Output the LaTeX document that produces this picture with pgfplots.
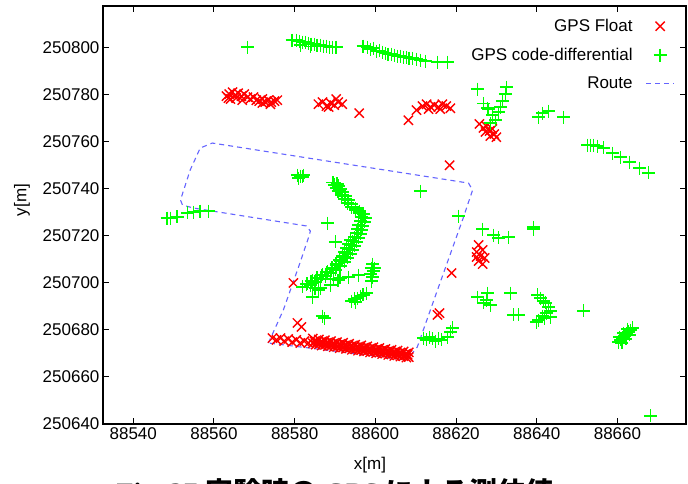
\documentclass[border=0pt]{standalone}
\usepackage{fontspec}
\setmainfont{Liberation Sans}
\newfontfamily\capfont{Liberation Serif}
\newfontfamily\cjk{Noto Sans CJK JP}
\usepackage{pgfplots}
\pgfplotsset{compat=1.18}

\definecolor{gpsred}{RGB}{255,0,0}
\definecolor{gpsgreen}{RGB}{0,255,0}
\definecolor{routeblue}{RGB}{100,100,255}

\begin{document}
\begin{tikzpicture}
\path[use as bounding box, clip] (0,0) rectangle (688pt,484pt);
\begin{axis}[
  at={(103pt,60pt)}, anchor=south west,
  scale only axis, width=583pt, height=418pt,
  xmin=88532.5, xmax=88677, ymin=250640, ymax=250817.5,
  xtick={88540,88560,...,88660}, ytick={250640,250660,...,250800},
  scaled ticks=false,
  /pgf/number format/fixed,
  /pgf/number format/precision=0,
  /pgf/number format/1000 sep={},
  /pgf/number format/assume math mode=true,
  tick align=inside, major tick length=6pt,
  axis line style={line width=1.5pt},
  every tick/.style={black, line width=1pt},
  tick label style={font=\fontsize{17}{20}\selectfont},
  label style={font=\fontsize{17}{20}\selectfont},
  xlabel={x[m]}, ylabel={y[m]},
  xlabel style={at={(axis description cs:0.458,0)}, anchor=center, yshift=-41pt},
  ylabel style={at={(axis description cs:0,0.536)}, anchor=center, yshift=81pt},
  legend plot pos=right, legend cell align=right,
  legend style={draw=none, fill=none, at={(0.981,0.971)}, anchor=north east,
    font=\fontsize{17}{20}\selectfont, row sep=13pt, column sep=12pt, inner sep=0pt,
    nodes={inner sep=1pt}},
  legend image code/.code={\draw[mark repeat=2,mark phase=2,#1] plot coordinates {(0pt,0pt)(14pt,0pt)(28pt,0pt)};},
]
% GPS Float
\addplot[only marks, mark=x, mark size=6.5pt, gpsred, mark options={line width=1.4pt}] coordinates {
(88563.1,250779.2)(88563.8,250780.1)(88564.6,250780.9)(88565.3,250779.7)(88566.0,250780.5)
(88566.8,250779.2)(88567.5,250780.1)(88568.3,250778.8)(88569.0,250778.0)(88569.8,250778.8)
(88570.5,250777.5)(88571.2,250777.1)(88572.0,250778.0)(88572.7,250776.7)(88573.5,250777.5)
(88574.2,250776.7)(88575.0,250777.1)(88575.7,250777.5)(88564.1,250778.0)(88565.5,250778.4)
(88567.0,250777.5)(88563.6,250778.4)(88572.0,250776.3)(88574.0,250775.8)
(88585.9,250775.8)(88586.9,250776.7)(88587.9,250775.0)(88588.9,250776.3)(88589.8,250775.4)
(88590.8,250776.7)(88591.8,250775.8)(88590.3,250778.0)(88588.4,250774.6)
(88596.0,250772.0)(88608.2,250769.0)(88610.2,250773.3)
(88611.7,250775.0)(88612.7,250775.8)(88613.7,250774.6)(88614.6,250775.4)(88615.6,250774.6)
(88616.6,250775.8)(88617.6,250775.0)(88618.6,250774.1)(88613.2,250773.7)(88616.1,250773.7)
(88625.8,250767.4)(88626.8,250765.7)(88627.5,250766.5)(88628.3,250764.4)(88629.0,250765.3)
(88629.5,250763.1)(88628.5,250762.3)(88630.0,250761.8)(88627.3,250764.0)
(88618.4,250749.9)
(88625.6,250716.0)(88626.6,250713.9)(88625.1,250713.0)(88626.1,250711.3)(88627.1,250710.5)
(88625.6,250709.2)(88626.6,250707.9)(88625.1,250710.9)
(88618.9,250704.1)(88615.4,250686.3)(88615.9,250687.1)
(88579.7,250699.9)(88580.7,250682.9)(88581.7,250681.2)
(88574.5,250676.5)(88575.5,250675.7)(88576.5,250676.5)(88577.4,250675.2)(88578.4,250676.1)
(88579.4,250674.8)(88580.4,250675.7)(88581.4,250674.4)(88582.4,250675.2)(88583.4,250674.4)
(88584.5,250676.3)(88585.2,250675.3)(88586.0,250675.9)(88586.7,250674.9)(88587.5,250675.6)
(88588.2,250674.6)(88589.0,250675.2)(88589.7,250674.2)(88590.5,250674.8)(88591.2,250673.8)
(88592.0,250674.5)(88592.7,250673.5)(88593.5,250674.1)(88594.2,250673.1)(88595.0,250673.7)
(88595.7,250672.7)(88596.5,250673.4)(88597.2,250672.4)(88598.0,250673.0)(88598.7,250672.0)
(88599.5,250672.6)(88600.2,250671.6)(88601.0,250672.3)(88601.7,250671.3)(88602.5,250671.9)
(88603.2,250670.9)(88604.0,250671.5)(88604.7,250670.5)(88605.5,250671.2)(88606.2,250670.2)
(88607.0,250670.8)(88607.7,250669.8)(88608.3,250670.4)
(88584.9,250675.1)(88585.6,250674.9)(88586.4,250674.7)(88587.1,250674.5)(88587.9,250674.4)
(88588.6,250674.2)(88589.4,250674.0)(88590.1,250673.8)(88590.9,250673.6)(88591.6,250673.4)
(88592.4,250673.3)(88593.1,250673.1)(88593.9,250672.9)(88594.6,250672.7)(88595.4,250672.5)
(88596.1,250672.3)(88596.9,250672.2)(88597.6,250672.0)(88598.4,250671.8)(88599.1,250671.6)
(88599.9,250671.4)(88600.6,250671.2)(88601.4,250671.1)(88602.1,250670.9)(88602.9,250670.7)
(88603.6,250670.5)(88604.4,250670.3)(88605.1,250670.1)(88605.9,250670.0)(88606.6,250669.8)
(88607.4,250669.6)(88608.0,250669.4)
(88584.5,250674.3)(88585.2,250673.7)(88586.0,250673.9)(88586.7,250673.3)(88587.5,250673.6)
(88588.2,250673.0)(88589.0,250673.2)(88589.7,250672.6)(88590.5,250672.8)(88591.2,250672.2)
(88592.0,250672.5)(88592.7,250671.9)(88593.5,250672.1)(88594.2,250671.5)(88595.0,250671.7)
(88595.7,250671.1)(88596.5,250671.4)(88597.2,250670.8)(88598.0,250671.0)(88598.7,250670.4)
(88599.5,250670.6)(88600.2,250670.0)(88601.0,250670.3)(88601.7,250669.7)(88602.5,250669.9)
(88603.2,250669.3)(88604.0,250669.5)(88604.7,250668.9)(88605.5,250669.2)(88606.2,250668.6)
(88607.0,250668.8)(88607.7,250668.2)(88608.3,250668.4)
};
\addlegendentry{GPS Float}
% GPS code-differential
\addplot[only marks, mark=+, mark size=6.5pt, gpsgreen, mark options={line width=1.5pt}] coordinates {
(88568.3,250800.0)
(88579.4,250803.0)(88580.4,250803.0)(88581.2,250802.6)(88581.9,250802.2)(88582.7,250802.2)
(88583.4,250801.7)(88584.1,250801.3)(88584.9,250801.3)(88585.6,250800.9)(88586.4,250800.9)
(88587.1,250800.5)(88587.9,250800.5)(88588.6,250800.0)(88589.4,250800.0)(88590.3,250800.0)
(88581.4,250800.9)(88583.9,250800.4)
(88597.0,250800.5)(88598.0,250800.0)(88598.8,250799.2)(88599.5,250799.6)(88600.3,250798.3)
(88601.0,250798.7)(88601.8,250797.9)(88602.5,250797.5)(88603.2,250797.1)(88604.0,250797.1)
(88604.7,250796.6)(88605.5,250796.2)(88606.2,250796.2)(88607.0,250795.8)(88607.7,250795.8)
(88608.4,250795.4)(88609.2,250795.4)(88610.2,250794.9)(88611.2,250794.5)(88612.4,250794.1)
(88615.4,250793.7)(88617.9,250793.7)
(88625.3,250782.2)(88632.5,250783.0)(88632.2,250780.1)(88631.5,250777.1)(88626.8,250776.2)
(88627.8,250774.1)(88631.0,250774.6)(88630.5,250772.4)(88629.0,250771.2)(88629.8,250769.0)
(88628.5,250767.8)(88628.0,250773.7)
(88640.4,250770.3)(88641.4,250772.0)(88642.9,250772.9)(88646.6,250770.3)
(88652.6,250758.4)(88653.3,250758.4)(88654.1,250758.4)(88655.1,250758.0)(88656.6,250757.2)
(88658.8,250755.0)(88660.8,250753.3)(88663.0,250751.2)(88665.5,250748.7)(88667.7,250746.6)
(88580.7,250745.7)(88581.4,250745.3)(88582.2,250745.7)(88581.9,250744.9)(88580.9,250744.4)
(88548.4,250727.4)(88549.2,250727.4)(88550.9,250727.9)(88553.4,250729.6)(88554.9,250730.0)
(88556.6,250730.4)(88558.6,250730.4)
(88588.1,250725.3)(88590.1,250717.3)
(88589.5,250742.5)(88590.5,250742.0)
(88589.8,250741.5)(88590.3,250740.2)(88590.8,250738.9)(88591.6,250737.2)(88592.3,250735.5)
(88593.1,250733.8)(88594.1,250732.1)(88595.1,250730.8)(88596.0,250729.6)(88596.5,250727.9)
(88596.3,250726.2)(88595.8,250724.5)(88595.6,250722.8)(88595.3,250721.1)(88594.8,250719.4)
(88594.3,250717.7)(88593.8,250716.0)(88593.3,250714.3)(88592.8,250712.6)(88592.1,250710.9)
(88591.3,250709.2)(88590.3,250707.5)(88589.1,250705.8)(88587.9,250704.5)(88586.6,250703.2)
(88585.4,250702.0)(88584.1,250700.7)(88582.9,250699.4)
(88590.8,250741.1)(88591.3,250739.8)(88591.8,250738.5)(88592.6,250736.8)(88593.3,250735.1)
(88594.1,250733.4)(88595.1,250731.7)(88596.1,250730.4)(88597.0,250729.2)(88597.5,250727.5)
(88597.3,250725.8)(88596.8,250724.1)(88596.6,250722.4)(88596.3,250720.7)(88595.8,250719.0)
(88595.3,250717.3)(88594.8,250715.6)(88594.3,250713.9)(88593.8,250712.2)(88593.1,250710.5)
(88592.3,250708.8)(88591.3,250707.1)(88590.1,250705.4)(88588.9,250704.1)(88587.6,250702.8)
(88586.4,250701.6)(88585.1,250700.3)(88583.9,250699.0)
(88593.8,250718.2)(88593.3,250716.5)(88592.8,250714.8)(88592.3,250713.1)(88591.8,250711.4)
(88591.1,250709.7)(88590.3,250708.0)(88589.3,250706.3)(88588.1,250704.6)(88586.9,250703.3)
(88585.6,250702.0)(88584.4,250700.8)(88583.1,250699.5)(88581.9,250698.2)
(88584.4,250699.9)(88585.1,250697.7)(88584.4,250693.9)(88586.4,250697.7)(88588.9,250699.0)
(88589.6,250701.6)(88590.8,250701.1)(88593.3,250702.4)(88595.8,250703.2)(88591.3,250702.0)
(88585.9,250696.9)
(88599.3,250707.9)(88599.0,250706.2)(88599.5,250705.0)(88598.8,250703.7)(88599.3,250702.4)
(88599.0,250700.7)(88599.8,250706.2)
(88594.1,250692.2)(88594.8,250693.1)(88595.6,250693.5)(88596.3,250694.3)(88597.0,250694.8)
(88597.8,250695.6)(88595.1,250691.8)
(88586.9,250685.8)(88587.4,250685.0)
(88611.2,250738.9)(88620.6,250728.3)
(88626.6,250722.8)(88629.3,250720.2)(88630.5,250719.0)(88633.0,250719.4)(88639.2,250723.6)
(88639.2,250722.8)
(88611.9,250676.5)(88612.7,250675.7)(88613.4,250676.9)(88614.2,250676.1)(88614.9,250675.2)
(88615.6,250676.1)(88616.4,250675.7)(88617.9,250676.9)(88619.1,250680.8)(88618.6,250679.1)
(88625.3,250693.9)(88627.8,250695.6)(88626.8,250691.4)(88628.5,250690.5)(88627.5,250692.6)
(88633.5,250695.6)(88634.2,250686.3)(88635.5,250686.3)
(88640.2,250694.8)(88640.9,250693.5)(88641.7,250692.2)(88642.2,250691.4)(88642.9,250689.7)
(88643.4,250688.0)(88642.4,250687.1)(88641.4,250685.8)(88640.4,250684.1)(88639.9,250683.3)
(88641.9,250685.0)(88643.4,250685.4)(88651.6,250688.0)
(88660.3,250674.8)(88660.8,250675.7)(88661.3,250676.5)(88661.8,250677.4)(88662.3,250678.2)
(88662.8,250679.1)(88663.3,250679.9)(88663.8,250680.8)(88661.1,250674.4)(88662.1,250676.1)
(88663.0,250677.8)(88660.5,250676.9)(88661.5,250678.6)(88662.5,250680.3)
(88668.2,250643.4)
};
\addlegendentry{GPS code-differential}
% Route
\addplot[routeblue, line width=1.1pt, dash pattern=on 5pt off 4pt, no marks] coordinates {
(88573.5,250674.4)(88577.2,250688.4)(88581.4,250708.8)(88583.4,250719.0)(88583.9,250721.9)
(88582.9,250724.1)(88554.9,250731.7)(88552.2,250733.0)(88551.7,250735.1)(88554.1,250747.8)
(88556.6,250757.2)(88559.6,250759.3)(88591.3,250750.8)(88623.1,250742.3)(88624.1,250739.3)
(88621.6,250726.6)(88615.4,250696.9)(88610.4,250672.7)(88609.2,250670.1)(88607.5,250667.2)
(88573.5,250674.4)
};
\addlegendentry{Route}
\end{axis}
\node[anchor=base west, font=\fontsize{28}{30}\selectfont\bfseries\capfont] at (113pt,-19pt)
  {Fig.~27\hspace{8pt}{\cjk 実験時の} GPS {\cjk による測位値}};
\end{tikzpicture}
\end{document}
